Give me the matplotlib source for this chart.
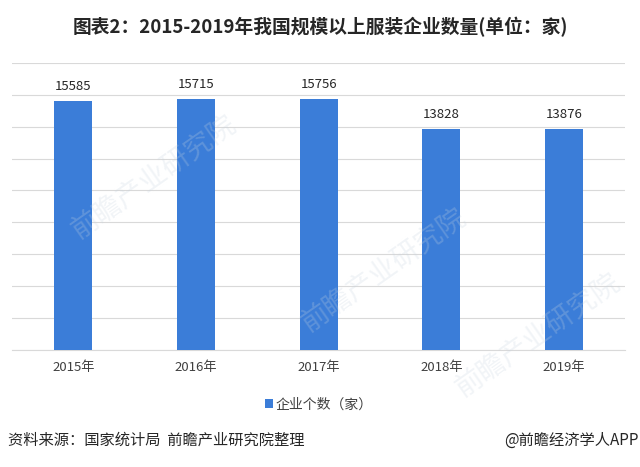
import matplotlib
matplotlib.use("Agg")
import matplotlib.pyplot as plt

plt.rcParams['font.family'] = ['Noto Sans CJK SC', 'DejaVu Sans']

years = ["2015年", "2016年", "2017年", "2018年", "2019年"]
counts = [15585, 15715, 15756, 13828, 13876]
series_name = "企业个数（家）"
title = "图表2：2015-2019年我国规模以上服装企业数量(单位：家)"
source = "资料来源：国家统计局  前瞻产业研究院整理"
credit = "@前瞻经济学人APP"

bar_color = "#3b7dd8"

fig = plt.figure(figsize=(6.4, 4.67), dpi=100)
ax = fig.add_axes([0.019, 0.2505, 0.958, 0.615])

x = range(len(years))
ax.bar(x, counts, width=0.31, color=bar_color, label=series_name, zorder=3)

for xi, v in zip(x, counts):
    ax.text(xi, v + 500, str(v), ha="center", va="bottom", fontsize=9.5, color="#262626")

ax.set_xlim(-0.5, len(years) - 0.5)
ax.set_ylim(0, 18000)
ax.set_yticks(range(0, 18001, 2000))
ax.yaxis.grid(True, color="#d9d9d9", linewidth=0.8, zorder=0)
ax.tick_params(axis="y", left=False, labelleft=False)
ax.tick_params(axis="x", length=0, pad=8, labelsize=9.5, labelcolor="#404040")
ax.set_xticks(list(x))
ax.set_xticklabels(years)
for side in ["top", "left", "right"]:
    ax.spines[side].set_visible(False)
ax.spines["bottom"].set_color("#d9d9d9")

# legend under the axis
ax.legend(loc="center", bbox_to_anchor=(0.5, -0.19), frameon=False, fontsize=10,
          handlelength=0.6, handleheight=0.6, handletextpad=0.2,
          labelcolor="#404040")

fig.text(0.5, 0.942, title, ha="center", va="center", fontsize=13.5,
         fontweight="bold", color="#262626")
fig.text(0.012, 0.058, source, ha="left", va="center", fontsize=11, color="#262626")
fig.text(0.998, 0.058, credit, ha="right", va="center", fontsize=11, color="#262626")

# faint watermarks
for wx, wy in [(0.24, 0.62), (0.6, 0.42), (0.84, 0.28)]:
    fig.text(wx, wy, "前瞻产业研究院", ha="center", va="center", fontsize=20,
             rotation=35, color="#c8d4e0", alpha=0.25, zorder=0)

fig.savefig("out.png", dpi=100)
